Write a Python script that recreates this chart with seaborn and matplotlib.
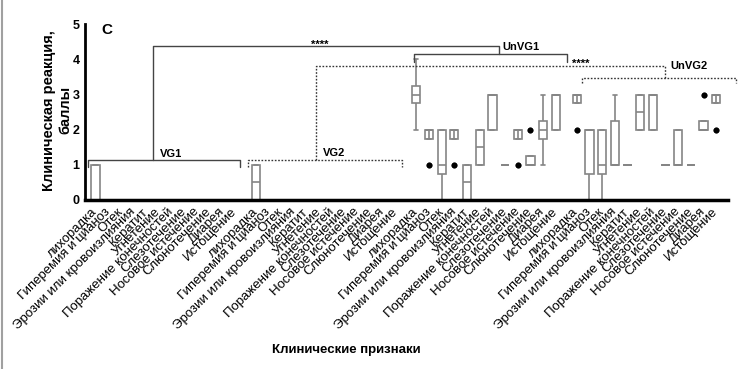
import numpy as np
import pandas as pd
import matplotlib
matplotlib.use('Agg')
import matplotlib.pyplot as plt
from matplotlib.lines import Line2D
import seaborn as sns

# clinical signs (same order in each group)
signs = ['лихорадка', 'Гиперемия и цианоз', 'Отек', 'Эрозии или кровоизлияния',
         'Кератит', 'Угнетение', 'Поражение конечностей', 'Слезотечение',
         'Носовое истечение', 'Слюнотечение', 'Диарея', 'Истощение']
groups = ['VG1', 'VG2', 'UnVG1', 'UnVG2']

# scores per animal (8 animals), one list per sign
zero = [0, 0, 0, 0, 0, 0, 0, 0]
vg1 = [[0, 0, 0, 0, 0, 1, 1, 1]] + [zero] * 11
vg2 = [[0, 0, 0, 0, 1, 1, 1, 1]] + [zero] * 11
unvg1 = [
    [2, 2, 3, 3, 3, 3, 4, 4],
    [1, 1, 2, 2, 2, 2, 2, 2],
    [0, 0, 1, 1, 1, 2, 2, 2],
    [1, 1, 2, 2, 2, 2, 2, 2],
    [0, 0, 0, 0, 1, 1, 1, 1],
    [1, 1, 1, 1, 2, 2, 2, 2],
    [2, 2, 2, 3, 3, 3, 3, 3],
    [1, 1, 1, 1, 1, 1, 1, 1],
    [1, 1, 2, 2, 2, 2, 2, 2],
    [1, 1, 1, 1, 1, 1, 2, 2],
    [1, 1, 2, 2, 2, 2, 3, 3],
    [2, 2, 2, 3, 3, 3, 3, 3],
]
unvg2 = [
    [2, 2, 3, 3, 3, 3, 3, 3],
    [0, 0, 1, 2, 2, 2, 2, 2],
    [0, 0, 1, 1, 1, 2, 2, 2],
    [1, 1, 1, 1, 1, 2, 3, 3],
    [1, 1, 1, 1, 1, 1, 1, 1],
    [2, 2, 2, 2, 3, 3, 3, 3],
    [2, 2, 2, 3, 3, 3, 3, 3],
    [1, 1, 1, 1, 1, 1, 1, 1],
    [1, 1, 1, 1, 1, 2, 2, 2],
    [1, 1, 1, 1, 1, 1, 1, 1],
    [2, 2, 2, 2, 2, 2, 3, 3],
    [2, 2, 3, 3, 3, 3, 3, 3],
]
all_groups = [vg1, vg2, unvg1, unvg2]

group_step = 12.65  # slot offset between groups (12 signs + gap)

rows = []
positions = []
for g, grp in enumerate(all_groups):
    for i, vals in enumerate(grp):
        p = g * group_step + i
        positions.append(p)
        for v in vals:
            rows.append({'pos': p, 'score': v})
df = pd.DataFrame(rows)

sns.set_style('white')
plt.rcParams['font.family'] = ['Liberation Sans', 'DejaVu Sans']
plt.rcParams['text.color'] = 'black'
plt.rcParams['axes.labelcolor'] = 'black'
plt.rcParams['xtick.color'] = 'black'
plt.rcParams['ytick.color'] = 'black'

fig = plt.figure(figsize=(7.43, 3.69), dpi=100)
ax = fig.add_axes([85 / 743, 1 - 200 / 369, 643 / 743, 175.7 / 369])

box_col = '#858585'
sns.boxplot(data=df, x='pos', y='score', native_scale=True, width=0.65,
            color='white', linecolor=box_col, linewidth=1.2,
            flierprops=dict(marker='o', markerfacecolor='black',
                            markeredgecolor='black', markersize=3.2),
            ax=ax)

# whisker drawn inside the box when the lowest non-outlier is above Q1
for g, grp in enumerate(all_groups):
    for i, vals in enumerate(grp):
        v = np.array(vals, dtype=float)
        q1, q3 = np.percentile(v, [25, 75])
        lo = v[v >= q1 - 1.5 * (q3 - q1)].min()
        if lo > q1:
            ax.vlines(g * group_step + i, q1, lo, color=box_col, lw=1.2, zorder=3)

ax.set_xlim(-0.83, 49.88)
ax.set_ylim(0, 5)
ax.set_yticks([0, 1, 2, 3, 4, 5])
ax.set_xticks(positions)
ax.set_xticklabels(signs * 4, rotation=45, ha='right', va='center',
                   rotation_mode='anchor', fontsize=9.5)
for lbl in ax.get_yticklabels():
    lbl.set_fontweight('bold')
    lbl.set_fontsize(9)

ax.tick_params(axis='x', direction='in', length=4, width=2, pad=7)
ax.tick_params(axis='y', direction='inout', length=6, width=2, pad=1)
sns.despine(ax=ax)
ax.spines['left'].set_linewidth(2)
ax.spines['bottom'].set_linewidth(2.5)
ax.spines['left'].set_color('black')
ax.spines['bottom'].set_color('black')

ax.set_ylabel('Клиническая реакция,\nбаллы', fontweight='bold', fontsize=10.5,
              linespacing=1.15)
ax.yaxis.set_label_coords(-0.02, 0.51)
ax.set_xlabel('Клинические признаки', fontweight='bold', fontsize=9.5)
ax.xaxis.set_label_coords(0.407, -0.82)

ax.text(0.5, 4.84, 'C', fontweight='bold', fontsize=11, va='center')

# comparison brackets
solid = dict(color='#444444', lw=1.0, clip_on=False)
dot = dict(color='#333333', lw=1.0, ls=(0, (1.2, 1.2)), clip_on=False)

ax.plot([-0.59, -0.59, 11.4, 11.4], [0.93, 1.14, 1.14, 0.93], **solid)
ax.text(5.1, 1.16, 'VG1', fontweight='bold', fontsize=8, va='bottom')
ax.plot([4.53, 4.53, 31.8, 31.8], [1.14, 4.37, 4.37, 4.15], **solid)
ax.plot([25.12, 25.12, 37.18, 37.18], [3.94, 4.15, 4.15, 3.94], **solid)
ax.text(32.1, 4.2, 'UnVG1', fontweight='bold', fontsize=8, va='bottom')
ax.text(17.7, 4.26, '****', fontweight='bold', fontsize=8, ha='center', va='bottom')

ax.plot([12.03, 12.03, 24.15, 24.15], [0.95, 1.14, 1.14, 0.95], **dot)
ax.text(17.9, 1.19, 'VG2', fontweight='bold', fontsize=8, va='bottom')
ax.plot([17.4, 17.4, 44.9, 44.9], [1.14, 3.82, 3.82, 3.48], **dot)
ax.plot([38.36, 38.36, 50.5, 50.5], [3.34, 3.48, 3.48, 3.34], **dot)
ax.text(45.3, 3.8, 'UnVG2', fontweight='bold', fontsize=8, va='center')
ax.text(38.3, 3.74, '****', fontweight='bold', fontsize=8, ha='center', va='bottom')

fig.add_artist(Line2D([0.003, 0.003], [0, 1], transform=fig.transFigure,
                      color='#a0a0a0', lw=1.5))

fig.savefig('out.png', dpi=100)
